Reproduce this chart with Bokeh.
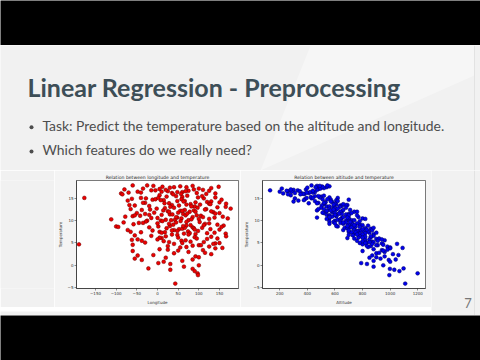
from bokeh.plotting import figure
from bokeh.layouts import row, column
from bokeh.models import Range1d, FixedTicker
from bokeh.core.properties import value
from bokeh.embed import file_html
from bokeh.resources import INLINE

# ---------------- data ----------------
slide_title = "Linear Regression - Preprocessing"
bullets = ["Task: Predict the temperature based on the altitude and longitude.",
           "Which features do we really need?"]
page_number = "7"
left_title = "Relation between longitude and temperature"
right_title = "Relation between altitude and temperature"
left_xlabel = "Longitude"
right_xlabel = "Altitude"
ylabel = "Temperature"
lon_ticks = [-150, -100, -50, 0, 50, 100, 150]
alt_ticks = [200, 400, 600, 800, 1000, 1200]
temp_ticks = [-5, 0, 5, 10, 15]

temperature = [
    17.9, 17.6, 17.8, 17.2, 17.5, 16.9, 17.0, 16.6, 16.4, 17.3,
    16.8, 16.2, 17.7, 16.5, 16.1, 17.1, 16.7, 16.3, 17.4, 16.0,
    17.9, 16.6, 17.2, 16.8, 16.4, 17.6, 16.1, 16.9, 17.0, 16.3,
    17.5, 16.2, 16.7, 17.8, 16.5, 16.0,
    15.1, 15.5, 15.2, 14.9, 14.6, 14.3, 14.0, 13.7, 13.4, 13.1,
    15.9, 15.4, 15.0, 14.7, 14.4, 14.1, 13.8, 13.5, 13.2, 15.7,
    15.3, 14.8, 14.5, 14.2, 13.9, 13.6, 13.3, 13.0, 15.6, 15.1,
    14.6, 14.1, 13.8, 13.4, 15.9, 15.2, 14.8, 14.3, 13.9, 13.5,
    15.5, 15.0, 14.4, 13.7, 13.2, 15.1, 14.7, 14.0, 13.6, 13.1,
    12.9, 12.7, 12.5, 12.3, 12.1, 11.9, 11.7, 11.5, 11.3, 11.1,
    10.9, 10.7, 10.5, 10.3, 10.1, 12.8, 12.6, 12.4, 12.2, 12.0,
    11.8, 11.6, 11.4, 11.2, 11.0, 10.8, 10.6, 10.4, 10.2, 10.0,
    12.9, 12.6, 12.3, 12.0, 11.7, 11.4, 11.1, 10.8, 10.5, 10.2,
    12.7, 12.4, 12.1, 11.8, 11.5, 11.2, 10.9, 10.6, 10.3, 10.0,
    12.5, 12.0, 11.6, 11.2, 10.8, 10.4, 12.2, 11.3, 10.7, 10.1,
    9.9, 9.7, 9.5, 9.3, 9.1, 8.9, 8.7, 8.5, 8.3, 8.1,
    7.9, 7.7, 7.5, 7.3, 7.1, 9.8, 9.6, 9.4, 9.2, 9.0,
    8.8, 8.6, 8.4, 8.2, 8.0, 7.8, 7.6, 7.4, 7.2, 7.0,
    9.9, 9.5, 9.1, 8.7, 8.3, 7.9, 7.5, 7.1, 9.7, 9.3,
    8.9, 8.5, 8.1, 7.7, 7.3, 9.6, 9.0, 8.4, 7.8, 7.2,
    9.4, 8.6, 8.0, 7.4, 8.8,
    6.9, 6.7, 6.5, 6.3, 6.1, 5.9, 5.7, 5.5, 5.3, 5.1,
    4.9, 4.7, 4.5, 4.3, 4.1, 6.8, 6.6, 6.4, 6.2, 6.0,
    5.8, 5.6, 5.4, 5.2, 5.0, 4.8, 4.6, 4.4, 4.2, 4.0,
    6.5, 6.0, 5.5, 5.0, 4.5, 6.9, 5.8, 4.8, 6.2, 5.2,
    3.9, 3.6, 3.4, 3.2, 3.0, 2.7, 2.5, 2.2, 2.0, 1.7,
    1.5, 1.2, 1.0, 3.8, 3.3, 2.8, 2.3, 1.8, 1.3, 3.5,
    0.8, 0.5, 0.3, 0.0, -0.3, -0.7, -0.8, -1.0, -1.3, -1.8,
    -2.2, -4.1,
]

longitude = [
    -60, 12, 85, -35, 40, 110, -80, 25, 60, 130,
    -15, 95, 55, -48, 140, 5, 75, -70, 30, 118,
    -25, 68, 100, -5, 48, 148, -88, 20, 88, -40,
    70, 35, 125, -10, 10, 57,
    -177, 45, 98, -62, 15, 130, -30, 80, 52, 165,
    -85, 22, 112, -12, 66, 150, 166, 35, 90, 5,
    60, 58, -72, 120, 28, 103, -20, 145, 72, -40,
    8, 92, 125, -55, 38, 140, -5, 63, 17, -68,
    108, -28, 48, 128, 82, 2, 155, -35, 70, 31,
    40, 177, -18, 88, 25, 135, -50, 62, 10, 105,
    -78, 48, 170, -112, 75, 18, 118, -38, 55, 92,
    -8, 140, 30, 68, -60, 85, 0, 125, 42, -25,
    97, -65, 14, 78, 150, 36, -42, 110, 58, 20,
    -2, 66, 130, 50, -30, 95, 158, -15, 82, 8,
    115, 28, 72, -55, 45, 100, 60, -20, 138, 33,
    12, 70, -45, 115, 38, 160, -100, 85, 22, 52,
    -72, 98, 5, 138, 64, -28, 45, 125, -58, 80,
    30, -95, 108, 60, 150, -12, 74, 18, 120, 92,
    56, -35, 145, 2, 88, 40, -65, 165, 102, 28,
    70, -20, 128, 48, 10, -82, 112, 66, 35, 78,
    0, 155, 90, -40, 62,
    35, -55, 166, 90, 10, 120, -62, 58, 80, -30,
    140, -190, 100, 25, 70, 48, -15, 130, 5, 95,
    -48, 68, 15, 112, 150, 40, -60, 85, 125, 55,
    20, 145, -38, 60, 105, 75, 0, 135, 50, 28,
    157, 5, 110, -60, 75, 40, 130, -48, 92, 20,
    -55, -38, 60, 140, 50, 115, -10, 100, 85, 25,
    15, 2, 31, 100, 64, -22, 85, 31, 90, 97,
    98, 43,
]

altitude = [
    430, 505, 470, 215, 540, 300, 390, 260, 455, 520,
    330, 410, 560, 285, 360, 480, 250, 440, 400, 380,
    545, 345, 495, 130, 420, 510, 225, 470, 280, 395,
    460, 310, 440, 490, 200, 370,
    620, 455, 560, 385, 610, 300, 480, 520, 640, 590,
    350, 500, 430, 570, 455, 530, 600, 690, 540, 280,
    425, 510, 335, 580, 470, 610, 650, 560, 520, 440,
    375, 530, 600, 505, 260, 490, 545, 570, 410, 680,
    480, 310, 620, 660, 560, 395, 700, 520, 590, 635,
    500, 560, 610, 470, 650, 580, 520, 700, 540, 610,
    690, 470, 560, 640, 720, 600, 520, 660, 580, 740,
    510, 630, 680, 560, 610, 770, 650, 540, 700, 600,
    680, 480, 570, 640, 720, 600, 560, 660, 800, 620,
    620, 710, 540, 600, 650, 760, 580, 700, 640, 680,
    590, 760, 630, 700, 560, 820, 540, 600, 690, 740,
    640, 590, 720, 660, 780, 700, 620, 690, 820, 740,
    660, 770, 700, 850, 740, 560, 680, 760, 730, 800,
    610, 710, 670, 860, 740, 790, 840, 720, 760, 880,
    780, 640, 700, 750, 690, 870, 810, 780, 710, 560,
    840, 720, 800, 760, 900, 660, 740, 880, 700, 820,
    600, 780, 830, 750, 690,
    800, 730, 780, 860, 690, 900, 820, 760, 870, 830,
    940, 800, 910, 860, 840, 700, 880, 820, 770, 920,
    850, 960, 800, 880, 780, 870, 950, 830, 980, 1000,
    860, 740, 910, 820, 900, 760, 940, 1050, 800, 850,
    1090, 880, 940, 800, 960, 900, 1020, 870, 960, 850,
    930, 990, 880, 1000, 950, 920, 1060, 900, 1040, 980,
    1000, 790, 832, 950, 880, 1097, 998, 1030, 1067, 1199,
    994, 1109,
]

# ---------------- styling ----------------
SLIDE = "#f1f1f1"
IMG = "#f4f4f4"
TITLE_COLOR = "#3d4e57"
TEXT_COLOR = "#4d4d4d"
W = 480


def blank(w, h, color):
    f = figure(width=w, height=h, x_range=Range1d(0, w), y_range=Range1d(h, 0),
               output_backend="svg", toolbar_location=None, min_border=0,
               x_axis_location=None, y_axis_location=None)
    f.grid.visible = False
    f.outline_line_color = None
    f.background_fill_color = color
    f.border_fill_color = color
    return f


bar_top = blank(W, 45, "black")
bar_bottom = blank(W, 45, "black")

header = blank(W, 125, SLIDE)
header.patch([310, 410, 474, 474, 260], [0, 0, 0, 30, 125], fill_color="white",
             fill_alpha=0.35, line_color=None)
header.segment(x0=[474], y0=[0], x1=[474], y1=[125], line_color="#e2e2e2", line_width=1)
header.text(x=[27], y=[41], text=[slide_title], text_font=value("Lato"),
            text_font_style="bold", text_font_size="25px", text_color=TITLE_COLOR,
            text_baseline="alphabetic")
header.scatter(x=[31, 31], y=[81.7, 106], size=4, fill_color=TEXT_COLOR,
               line_color=None)
header.text(x=[42, 42], y=[79.5, 103.8], text=bullets, text_font=value("Lato"),
            text_font_size="13.9px", text_color=TEXT_COLOR, text_baseline="alphabetic")

spacer_left = blank(54, 137, SLIDE)
strip = blank(431, 8, SLIDE)
spacer_right = blank(49, 145, SLIDE)
spacer_right.segment(x0=[43], y0=[0], x1=[43], y1=[145], line_color="#e2e2e2", line_width=1)
spacer_right.text(x=[36.5], y=[132], text=[page_number], text_font=value("Lato"),
                  text_font_size="13px", text_color="#777777",
                  text_baseline="alphabetic", text_align="center")


def scatter_fig(width, xr, xticks, xs, title, xlabel, fill, edge, mbl, mbr):
    p = figure(width=width, height=137, x_range=Range1d(*xr),
               y_range=Range1d(-5.2, 19.0), output_backend="svg",
               toolbar_location=None, title=title,
               min_border_left=mbl, min_border_right=mbr,
               min_border_top=10, min_border_bottom=17)
    p.background_fill_color = "white"
    p.border_fill_color = IMG
    p.outline_line_color = "#222222"
    p.outline_line_width = 0.6
    p.grid.visible = False
    p.title.text_font = "DejaVu Sans"
    p.title.text_font_size = "4.6px"
    p.title.text_font_style = "normal"
    p.title.align = "center"
    p.title.standoff = 1
    p.title.offset = 0
    p.title.text_color = "#222222"
    p.xaxis.ticker = FixedTicker(ticks=xticks)
    p.yaxis.ticker = FixedTicker(ticks=temp_ticks)
    p.xaxis.axis_label = xlabel
    p.yaxis.axis_label = ylabel
    for ax in (p.xaxis[0], p.yaxis[0]):
        ax.axis_line_color = "#222222"
        ax.axis_line_width = 0.6
        ax.major_tick_line_color = "#222222"
        ax.major_tick_line_width = 0.5
        ax.major_tick_out = 2
        ax.major_tick_in = 0
        ax.minor_tick_line_color = None
        ax.major_label_text_font = "DejaVu Sans"
        ax.major_label_text_font_size = "4px"
        ax.major_label_text_color = "#333333"
        ax.major_label_standoff = 1
        ax.axis_label_text_font = "DejaVu Sans"
        ax.axis_label_text_font_size = "4px"
        ax.axis_label_text_font_style = "normal"
        ax.axis_label_text_color = "#333333"
        ax.axis_label_standoff = 2
    p.scatter(xs, temperature, size=3.8, fill_color=fill, line_color=edge,
              line_width=0.5)
    return p


plot_left = scatter_fig(186, (-196, 196), lon_ticks, longitude, left_title,
                        left_xlabel, "#ee0000", "#6a0000", 14, 2)
plot_right = scatter_fig(191, (75, 1256), alt_ticks, altitude, right_title,
                         right_xlabel, "#0000ee", "#000060", 15, 6)

middle = row(column(row(spacer_left, plot_left, plot_right), strip), spacer_right)
page = column(bar_top, header, middle, bar_bottom)

open("out.html", "w").write(file_html(page, INLINE))
